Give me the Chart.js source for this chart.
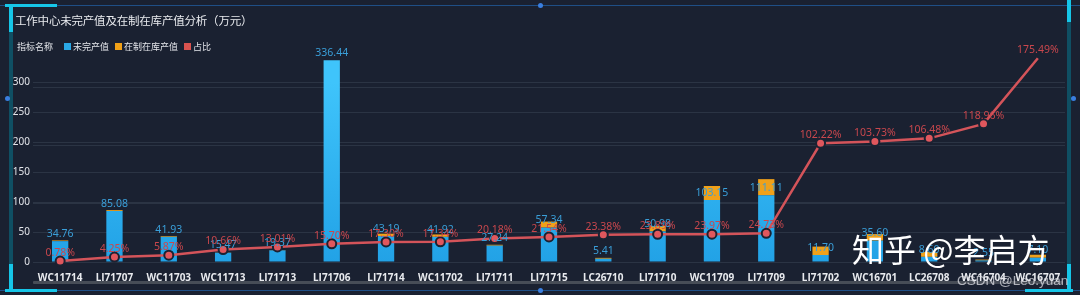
<!DOCTYPE html>
<html>
<head>
<meta charset="utf-8">
<script src="https://cdn.jsdelivr.net/npm/chart.js@4.4.1/dist/chart.umd.min.js"></script>
<style>
  html, body { margin:0; padding:0; background:#1a2131; }
  #wrap { position:relative; width:1080px; height:295px; background:#1a2131; overflow:hidden; font-family:"Noto Sans CJK SC","Noto Sans",sans-serif; }
  #c { position:absolute; left:0; top:0; }
  .title { position:absolute; left:15px; top:12px; color:#e8eaee; font-size:11.5px; letter-spacing:-0.2px; white-space:nowrap; }
  .legend { position:absolute; left:17px; top:40px; color:#e3e5ea; font-size:9px; display:flex; align-items:center; white-space:nowrap; }
  .legend .sw { display:inline-block; width:7px; height:7px; margin-right:2px; margin-left:6px; }
  .frame-h { position:absolute; height:1px; background:#1f4f86; }
  .cy { position:absolute; background:#16c6e8; }
  .teal { position:absolute; background:#0f4f63; }
  .dot { position:absolute; width:5px; height:5px; border-radius:50%; background:#3a7fe0; }
  .scroll { position:absolute; left:33px; top:281px; width:1030px; height:3px; background:#474d57; border-radius:1px; }
  .wm1 { position:absolute; left:852px; top:232px; color:#ffffff; font-size:32px; line-height:32px; white-space:nowrap; }
  .wm2 { position:absolute; left:957px; top:273px; color:rgba(230,230,235,0.72); font-size:13.5px; white-space:nowrap; font-family:"Liberation Sans","DejaVu Sans",sans-serif; }
</style>
</head>
<body>
<div id="wrap">
  <div class="frame-h" style="left:0;top:5px;width:1080px;"></div>
  <div class="frame-h" style="left:0;top:290px;width:1080px;"></div>
  <div class="teal" style="left:9px;top:5px;width:4px;height:285px;"></div>
  <div class="teal" style="left:1067px;top:5px;width:4px;height:285px;"></div>
  <div class="cy" style="left:5px;top:4px;width:52px;height:3px;"></div>
  <div class="cy" style="left:9px;top:4px;width:4px;height:28px;"></div>
  <div class="cy" style="left:9px;top:264px;width:4px;height:27px;"></div>
  <div class="cy" style="left:5px;top:289px;width:52px;height:3px;"></div>
  <div class="cy" style="left:1067px;top:0px;width:4px;height:22px;"></div>
  <div class="cy" style="left:1067px;top:264px;width:4px;height:28px;"></div>
  <div class="cy" style="left:1025px;top:289px;width:48px;height:3px;"></div>
  <div class="dot" style="left:5px;top:96px;"></div>
  <div class="dot" style="left:1071px;top:96px;"></div>
  <div class="dot" style="left:538px;top:3px;"></div>
  <div class="dot" style="left:538px;top:288px;"></div>
  <canvas id="c" width="1080" height="295"></canvas>
  <div class="title">工作中心未完产值及在制在库产值分析（万元）</div>
  <div class="legend">
    <span>指标名称</span>
    <span class="sw" style="background:#2aa8e6;margin-left:11px;"></span><span>未完产值</span>
    <span class="sw" style="background:#f0a017;"></span><span>在制在库产值</span>
    <span class="sw" style="background:#d9534f;"></span><span>占比</span>
  </div>
  <div class="scroll"></div>
  <div class="wm1">知乎 @李启方</div>
  <div class="wm2">CSDN @Leo.yuan</div>
</div>
<script>
const categories = ['WC11714','LJ71707','WC11703','WC11713','LJ71713','LJ71706','LJ71714','WC11702','LJ71711','LJ71715','LC26710','LJ71710','WC11709','LJ71709','LJ71702','WC16701','LC26708','WC16704','WC16707'];
const unfinishedValue = [34.76, 85.08, 41.93, 15.47, 19.37, 336.44, 43.19, 41.92, 27.24, 57.34, 5.41, 50.98, 103.15, 111.11, 11.70, 35.60, 8.60, 2.55, 7.10];
const inProcessValue = [1.2, 1.5, 1.2, 0.3, 0.5, 0, 4.0, 4.0, 1.5, 10.0, 1.5, 9.0, 23.5, 27.0, 14.0, 11.0, 8.0, 1.5, 5.0];
const ratioPercent = [0.78, 4.25, 5.87, 10.66, 13.01, 15.70, 17.30, 17.34, 20.18, 21.54, 23.38, 23.89, 23.97, 24.73, 102.22, 103.73, 106.48, 118.96, 175.49];
const leftTicks = [0, 50, 100, 150, 200, 250, 300];
const rightTicks = [0, 50, 100, 150];

const gridColor = '#2b3444';

const labelPlugin = {
  id: 'valueLabels',
  afterDatasetsDraw(chart) {
    const ctx = chart.ctx;
    ctx.save();
    ctx.textAlign = 'center';
    ctx.textBaseline = 'bottom';
    const mb = chart.getDatasetMeta(0);
    ctx.font = '10.5px "Noto Sans", "Open Sans", sans-serif';
    ctx.fillStyle = '#3a9fd9';
    mb.data.forEach((el, i) => {
      ctx.fillText(unfinishedValue[i].toFixed(2), el.x, el.y - 2);
    });
    const ml = chart.getDatasetMeta(2);
    ctx.fillStyle = '#c9474d';
    ml.data.forEach((el, i) => {
      ctx.fillText(ratioPercent[i].toFixed(2) + '%', el.x, el.y - 3);
    });
    ctx.restore();
  }
};

const ctx = document.getElementById('c').getContext('2d');
new Chart(ctx, {
  type: 'bar',
  data: {
    labels: categories,
    datasets: [
      {
        label: '未完产值',
        data: unfinishedValue,
        yAxisID: 'y',
        stack: 's',
        order: 2,
        clip: false,
        backgroundColor: (c) => {
          const ca = c.chart.chartArea;
          if (!ca) return '#2fb3ef';
          const g = c.chart.ctx.createLinearGradient(0, ca.top, 0, ca.bottom);
          g.addColorStop(0, '#3fc4fb');
          g.addColorStop(1, '#22a2e6');
          return g;
        },
        barPercentage: 0.3,
        categoryPercentage: 1.0
      },
      {
        label: '在制在库产值',
        data: inProcessValue,
        yAxisID: 'y',
        stack: 's',
        order: 2,
        clip: false,
        backgroundColor: '#f0a11a',
        barPercentage: 0.3,
        categoryPercentage: 1.0
      },
      {
        type: 'line',
        label: '占比',
        data: ratioPercent,
        yAxisID: 'y1',
        order: 0,
        clip: false,
        borderColor: '#d4545a',
        borderWidth: 2.5,
        tension: 0,
        pointRadius: 4.5,
        pointBackgroundColor: '#e0575d',
        pointBorderColor: '#1c2232',
        pointBorderWidth: 2
      }
    ]
  },
  options: {
    responsive: false,
    animation: false,
    events: [],
    layout: { padding: { top: 82, left: 0, right: 15, bottom: 12 } },
    plugins: { legend: { display: false }, tooltip: { enabled: false }, title: { display: false } },
    scales: {
      x: {
        stacked: true,
        grid: { display: false },
        border: { display: false },
        ticks: { color: '#e8eaee', font: { size: 10, weight: 'bold', family: '"Noto Sans", sans-serif' }, padding: 2, maxRotation: 0, autoSkip: false },
        afterFit: (s) => { s.height = 21; }
      },
      y: {
        stacked: true,
        position: 'left',
        min: 0,
        max: 300,
        afterBuildTicks: (s) => { s.ticks = leftTicks.map(v => ({ value: v })); },
        grid: { color: gridColor, drawTicks: false, lineWidth: 1 },
        border: { display: false },
        ticks: { color: '#e3e5ea', font: { size: 10, family: '"Noto Sans", sans-serif' }, padding: 3 },
        afterFit: (s) => { s.width = 33; }
      },
      y1: {
        position: 'right',
        min: 0,
        max: 155,
        afterBuildTicks: (s) => { s.ticks = rightTicks.map(v => ({ value: v })); },
        grid: { color: gridColor, drawTicks: false, lineWidth: 1 },
        border: { display: false },
        ticks: { display: false },
        afterFit: (s) => { s.width = 0; }
      }
    }
  },
  plugins: [labelPlugin]
});
</script>
</body>
</html>
